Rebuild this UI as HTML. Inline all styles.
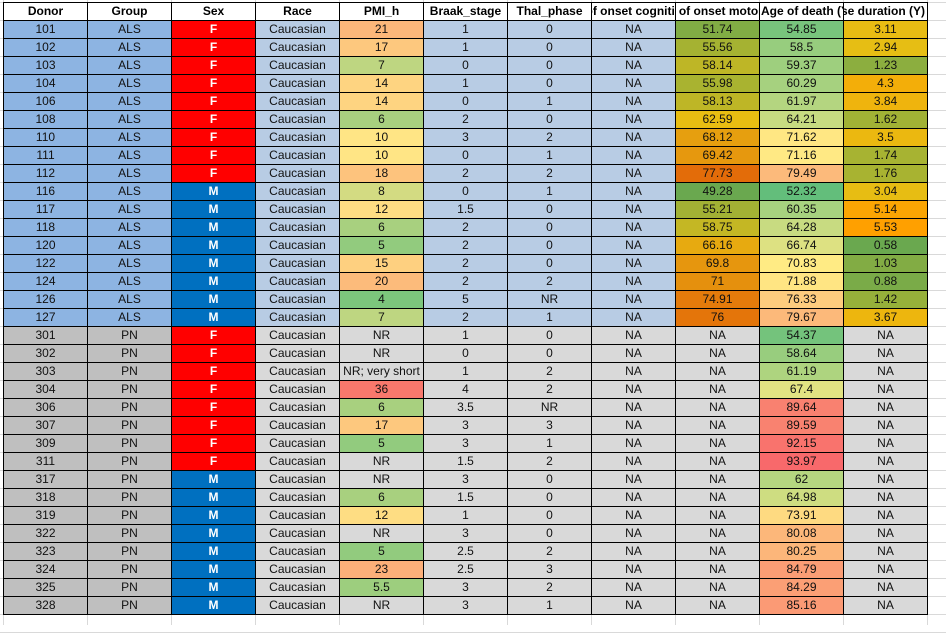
<!DOCTYPE html>
<html><head><meta charset="utf-8">
<style>
html,body{margin:0;padding:0;background:#fff;}
body{width:946px;height:625px;position:relative;overflow:hidden;font-family:"Liberation Sans",Arial,sans-serif;font-size:12px;color:#111;}
.c{position:absolute;box-sizing:border-box;border:1px solid #000;width:85px;height:19px;overflow:hidden;white-space:nowrap;}
.c span{position:absolute;left:50%;top:1px;transform:translateX(-50%);line-height:15px;}
.c span.l{left:1px;transform:none;}
.c span.r{left:auto;right:2px;transform:none;}
.g{position:absolute;background:#d9d9d9;}
</style></head><body>
<div id="root"></div>
<script>
var root=document.getElementById('root');
var H='';
for(var i=0;i<13;i++){H+='<div class="g" style="left:'+(3+84*i)+'px;top:0;width:1px;height:625px"></div>';}
for(var r=0;r<36;r++){H+='<div class="g" style="left:0;top:'+(2+18*r)+'px;width:946px;height:1px"></div>';}
var als=[
[101,'F',21,1,0,51.74,54.85,3.11],[102,'F',17,1,0,55.56,58.5,2.94],[103,'F',7,0,0,58.14,59.37,1.23],
[104,'F',14,1,0,55.98,60.29,4.3],[106,'F',14,0,1,58.13,61.97,3.84],[108,'F',6,2,0,62.59,64.21,1.62],
[110,'F',10,3,2,68.12,71.62,3.5],[111,'F',10,0,1,69.42,71.16,1.74],[112,'F',18,2,2,77.73,79.49,1.76],
[116,'M',8,0,1,49.28,52.32,3.04],[117,'M',12,1.5,0,55.21,60.35,5.14],[118,'M',6,2,0,58.75,64.28,5.53],
[120,'M',5,2,0,66.16,66.74,0.58],[122,'M',15,2,0,69.8,70.83,1.03],[124,'M',20,2,2,71,71.88,0.88],
[126,'M',4,5,'NR',74.91,76.33,1.42],[127,'M',7,2,1,76,79.67,3.67]];
var pn=[
[301,'F','NR',1,0,54.37],[302,'F','NR',0,0,58.64],[303,'F','NR; very short',1,2,61.19],[304,'F',36,4,2,67.4],
[306,'F',6,3.5,'NR',89.64],[307,'F',17,3,3,89.59],[309,'F',5,3,1,92.15],[311,'F','NR',1.5,2,93.97],
[317,'M','NR',3,0,62],[318,'M',6,1.5,0,64.98],[319,'M',12,1,0,73.91],[322,'M','NR',3,0,80.08],
[323,'M',5,2.5,2,80.25],[324,'M',23,2.5,3,84.79],[325,'M',5.5,3,2,84.29],[328,'M','NR',3,1,85.16]];
function hex(h){return [parseInt(h.substr(1,2),16),parseInt(h.substr(3,2),16),parseInt(h.substr(5,2),16)];}
function mix(a,b,t){a=hex(a);b=hex(b);return 'rgb('+a.map(function(v,i){return Math.round(v+(b[i]-v)*t)}).join(',')+')';}
function median(arr){var s=arr.slice().sort(function(a,b){return a-b});var n=s.length;var p=(n-1)*0.5;var lo=Math.floor(p);return s[lo]+(s[Math.ceil(p)]-s[lo])*(p-lo);}
function scale(arr,c1,c2,c3){var mn=Math.min.apply(null,arr),mx=Math.max.apply(null,arr),md=median(arr);
 return function(v){if(v<=md)return mix(c1,c2,(v-mn)/(md-mn));return mix(c2,c3,(v-md)/(mx-md));};}
var pmiV=[],motV=[],deathV=[],durV=[];
als.forEach(function(r){pmiV.push(r[2]);motV.push(r[5]);deathV.push(r[6]);durV.push(r[7]);});
pn.forEach(function(r){if(typeof r[2]=='number')pmiV.push(r[2]);deathV.push(r[5]);});
var sPmi=scale(pmiV,'#7cc67c','#ffe585','#f8786c');
var sMot=scale(motV,'#6aa84f','#e8bd12','#e36c09');
var sDeath=scale(deathV,'#63be7b','#ffeb84','#f8696b');
var sDur=scale(durV,'#6aa84f','#e6be14','#ffa000');
function cell(col,row,txt,bg,extra,cls){
 H+='<div class="c" style="left:'+(3+84*col)+'px;top:'+(2+18*row)+'px;background:'+bg+';'+(extra||'')+'"><span'+(cls?' class="'+cls+'"':'')+'>'+txt+'</span></div>';}
var hdr=['Donor','Group','Sex','Race','PMI_h','Braak_stage','Thal_phase','Age of onset cognitive (Y)','Age of onset motor (Y)','Age of death (Y)','Disease duration (Y)'];
hdr.forEach(function(h,i){cell(i,0,h,'#fff','font-weight:bold;color:#000',i==9?'l':(i==10?'r':''));});
var row=1;
als.forEach(function(r){
 cell(0,row,r[0],'#8db4e2');cell(1,row,'ALS','#8db4e2');
 cell(2,row,r[1],r[1]=='F'?'#ff0000':'#0070c0','color:#fff;font-weight:bold');
 cell(3,row,'Caucasian','#b8cce4');
 cell(4,row,r[2],sPmi(r[2]));
 cell(5,row,r[3],'#b8cce4');cell(6,row,r[4],'#b8cce4');cell(7,row,'NA','#b8cce4');
 cell(8,row,r[5],sMot(r[5]));cell(9,row,r[6],sDeath(r[6]));cell(10,row,r[7],sDur(r[7]));
 row++;});
pn.forEach(function(r){
 cell(0,row,r[0],'#bfbfbf');cell(1,row,'PN','#bfbfbf');
 cell(2,row,r[1],r[1]=='F'?'#ff0000':'#0070c0','color:#fff;font-weight:bold');
 cell(3,row,'Caucasian','#d9d9d9');
 cell(4,row,r[2],typeof r[2]=='number'?sPmi(r[2]):'#d9d9d9');
 cell(5,row,r[3],'#d9d9d9');cell(6,row,r[4],'#d9d9d9');cell(7,row,'NA','#d9d9d9');
 cell(8,row,'NA','#d9d9d9');cell(9,row,r[5],sDeath(r[5]));cell(10,row,'NA','#d9d9d9');
 row++;});
root.innerHTML=H;
</script>
</body></html>
